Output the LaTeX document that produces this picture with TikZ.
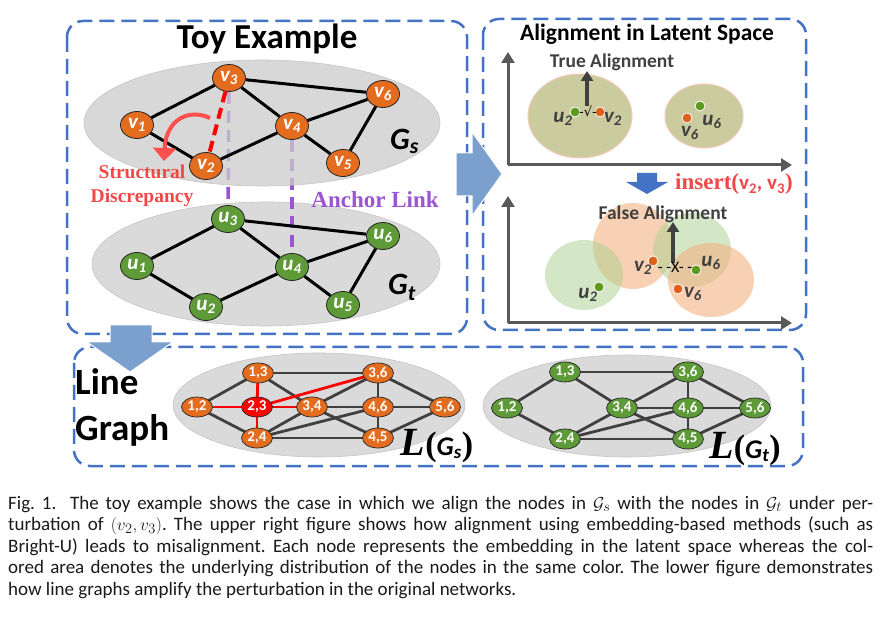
\documentclass[tikz,border=0pt]{standalone}
\usepackage{fontspec}
\setmainfont{Carlito}
\newfontfamily\tms{Liberation Serif}
\newfontfamily\dejavu{DejaVu Sans}
\usetikzlibrary{shapes.geometric,arrows.meta}
\pgfdeclarelayer{bg}
\pgfdeclarelayer{mid}
\pgfsetlayers{bg,mid,main}
\definecolor{boxblue}{HTML}{4472C4}
\definecolor{arrblue}{HTML}{7BA0CD}
\definecolor{vorange}{HTML}{E36C1F}
\definecolor{ugreen}{HTML}{5E9A38}
\definecolor{ellgray}{HTML}{DADADA}
\definecolor{ellgraydk}{HTML}{CCCCCC}
\definecolor{redtxt}{HTML}{F04848}
\definecolor{redarr}{HTML}{FF5050}
\definecolor{anchorp}{HTML}{9B55D0}
\definecolor{axisgray}{HTML}{595959}
\definecolor{edgegray}{HTML}{404040}
\definecolor{lgreen}{HTML}{A9D18E}
\definecolor{lorange}{HTML}{F4B183}
\definecolor{olivefill}{HTML}{CBCBA0}
\definecolor{pinkedge}{HTML}{F2C8B4}
\definecolor{dotgreen}{HTML}{5E9A1E}
\definecolor{dotorange}{HTML}{E0601A}
\definecolor{lbltxt}{HTML}{404040}
\definecolor{captxt}{HTML}{1A1A1A}
\begin{document}
\begin{tikzpicture}[x=1pt,y=-1pt,
  dbox/.style={draw=boxblue, line width=2.5pt, dash pattern=on 15pt off 7pt, rounded corners=16pt},
  vnode/.style={ellipse, draw=black!85, line width=0.8pt, fill=vorange, minimum width=33pt, minimum height=27pt, inner sep=0pt, text=white, font=\fontsize{21}{21}\selectfont\bfseries\itshape},
  unode/.style={vnode, fill=ugreen},
  lnodeo/.style={ellipse, draw=black!85, line width=0.7pt, fill=vorange, minimum width=31pt, minimum height=20pt, inner sep=0pt, text=white, font=\fontsize{15}{15}\selectfont\bfseries},
  lnodeg/.style={lnodeo, fill=ugreen},
  lnoder/.style={lnodeo, fill=red},
  gedge/.style={line width=3pt, black},
  ledge/.style={line width=2.8pt, edgegray},
  redge/.style={line width=2.8pt, red},
  anchorln/.style={anchorp, line width=3.5pt, dash pattern=on 12pt off 7pt},
  bigarrow/.style={fill=arrblue, draw=white, line width=1pt},
  axisarr/.style={axisgray, line width=3pt, -{Triangle[length=11pt,width=13pt]}},
  uparr/.style={edgegray, line width=3.5pt, -{Triangle[length=10pt,width=12pt]}},
  gdot/.style={circle, fill=dotgreen, draw=white, line width=0.8pt, minimum size=10pt, inner sep=0pt},
  odot/.style={gdot, fill=dotorange},
  lbl/.style={text=lbltxt, font=\fontsize{21}{21}\selectfont\bfseries\itshape, inner sep=0pt},
  ttl/.style={font=\fontsize{#1}{#1}\selectfont\bfseries, inner sep=0pt},
  capline/.style={anchor=base west, inner sep=0pt, text=captxt, font=\fontsize{19}{19}\selectfont\frenchspacing}
]
\useasboundingbox (0,0) rectangle (881,617);
\begin{pgfonlayer}{bg}
\fill[white] (0,0) rectangle (881,617);
\end{pgfonlayer}

% ---------- dashed panels ----------
\draw[dbox] (67,21) rectangle (467,334);
\draw[dbox] (483,19) rectangle (806,330);
\draw[dbox] (74,347) rectangle (803,466);

% ---------- Toy example ----------
\node[ttl=35, anchor=base] (toy) at (267,49) {Toy Example};

\begin{pgfonlayer}{bg}
\filldraw[fill=ellgray, draw=gray!45, line width=0.6pt] (266,264) ellipse [x radius=174pt, y radius=62pt];
\end{pgfonlayer}
\begin{pgfonlayer}{mid}
\filldraw[fill=ellgraydk, fill opacity=0.75, draw=gray!45, line width=0.6pt] (262,123) ellipse [x radius=178pt, y radius=63pt];
\end{pgfonlayer}

\node[vnode] (v3) at (229,78) {v\textsubscript{3}};
\node[vnode] (v6) at (383,94) {v\textsubscript{6}};
\node[vnode] (v1) at (137,125) {v\textsubscript{1}};
\node[vnode] (v4) at (292,126) {v\textsubscript{4}};
\node[vnode] (v2) at (206,166) {v\textsubscript{2}};
\node[vnode] (v5) at (343,163) {v\textsubscript{5}};

\node[unode] (u3) at (228,219) {u\textsubscript{3}};
\node[unode] (u6) at (383,236) {u\textsubscript{6}};
\node[unode] (u1) at (137,266) {u\textsubscript{1}};
\node[unode] (u4) at (292,267) {u\textsubscript{4}};
\node[unode] (u2) at (206,307) {u\textsubscript{2}};
\node[unode] (u5) at (343,305) {u\textsubscript{5}};

\begin{pgfonlayer}{bg}
\draw[anchorln] (v3) -- (u3);
\draw[anchorln] (v4) -- (u4);
\end{pgfonlayer}

\foreach \a/\b in {1/3,1/2,3/6,3/4,2/4,4/6,4/5,5/6}{
  \draw[gedge] (v\a) -- (v\b);
  \draw[gedge] (u\a) -- (u\b);
}
\draw[red, line width=4pt, dash pattern=on 11pt off 6pt] (v3) -- (v2);

\coordinate (cs) at (210,118);
\coordinate (ce) at (164,161);
\draw[redarr, line width=4pt, -{Triangle[length=13pt,width=23pt]}] (cs) .. controls (188,108) and (166,120) .. (ce);

\node[text=redtxt, font=\tms\fontsize{19.5}{19.5}\selectfont\bfseries, anchor=base, inner sep=0pt] (sd1) at (142,179) {Structural};
\node[text=redtxt, font=\tms\fontsize{19.5}{19.5}\selectfont\bfseries, anchor=base, inner sep=0pt] (sd2) at (142,203) {Discrepancy};
\node[text=anchorp, font=\tms\fontsize{23}{23}\selectfont\bfseries, anchor=base, inner sep=0pt] (al) at (375,208) {Anchor Link};

\node[font=\fontsize{31}{31}\selectfont\bfseries\itshape, anchor=base west, inner sep=0pt] (gs) at (390,150) {G\textsubscript{s}};
\node[font=\fontsize{31}{31}\selectfont\bfseries\itshape, anchor=base west, inner sep=0pt] (gt) at (388,295) {G\textsubscript{t}};

% ---------- Latent space ----------
\filldraw[fill=olivefill, draw=pinkedge, line width=1pt] (580,116) ellipse [x radius=52pt, y radius=42pt];
\filldraw[fill=olivefill, draw=pinkedge, line width=1pt] (704,116) ellipse [x radius=39pt, y radius=32pt];

\fill[lorange, fill opacity=0.6] (633,246) ellipse [x radius=40pt, y radius=43pt];
\fill[lgreen, fill opacity=0.5] (584,275) ellipse [x radius=39pt, y radius=35pt];
\fill[lgreen, fill opacity=0.5] (692,250) ellipse [x radius=39pt, y radius=37pt];
\fill[lorange, fill opacity=0.6] (711,280) ellipse [x radius=43pt, y radius=37pt];

\node[ttl=23.5, anchor=base] (lat) at (647,41) {Alignment in Latent Space};
\node[ttl=19.5, anchor=base, text=lbltxt] (ta) at (612,68) {True Alignment};
\node[ttl=19.5, anchor=base, text=lbltxt] (fa) at (663,220) {False Alignment};

\coordinate (o1) at (508,165);
\coordinate (y1) at (508,52);
\coordinate (x1) at (792,165);
\coordinate (o2) at (508,323);
\coordinate (y2) at (508,196);
\coordinate (x2) at (792,323);
\draw[axisarr] (o1) -- (y1);
\draw[axisarr] (o1) -- (x1);
\draw[axisarr] (o2) -- (y2);
\draw[axisarr] (o2) -- (x2);

\coordinate (ta0) at (587,106);
\coordinate (ta1) at (587,71);
\draw[uparr] (ta0) -- (ta1);
\coordinate (fa0) at (673,263);
\coordinate (fa1) at (673,222);
\draw[uparr] (fa0) -- (fa1);

\node[gdot] (du2) at (575,112) {};
\node[odot] (dv2) at (600,112) {};
\node[font=\dejavu\fontsize{13}{13}\selectfont, inner sep=0pt] (chk) at (588,111) {-√-};
\node[lbl] (lu2) at (563,119) {u\textsubscript{2}};
\node[lbl] (lv2) at (613,119) {v\textsubscript{2}};
\node[gdot] (du6) at (700,106) {};
\node[odot] (dv6) at (687,118) {};
\node[lbl] (lu6) at (712,122) {u\textsubscript{6}};
\node[lbl] (lv6) at (690,133) {v\textsubscript{6}};

\node[odot] (ev2) at (653,261) {};
\node[gdot] (eu6) at (696,270) {};
\node[gdot] (eu2) at (599,287) {};
\node[odot] (ev6) at (678,289) {};
\node[font=\fontsize{16}{16}\selectfont, inner sep=0pt] (xx) at (675,267) {- -X- -};
\node[lbl] (mv2) at (643,268) {v\textsubscript{2}};
\node[lbl] (mu6) at (711,263) {u\textsubscript{6}};
\node[lbl] (mu2) at (588,295) {u\textsubscript{2}};
\node[lbl] (mv6) at (693,294) {v\textsubscript{6}};

\fill[boxblue] (637,173) -- (657,173) -- (657,182) -- (668,182) -- (647,194) -- (626,182) -- (637,182) -- cycle;
\node[anchor=base west, inner sep=0pt, text=redtxt] (ins) at (675,190)
  {{\tms\fontsize{23}{23}\selectfont\bfseries insert(}{\fontsize{21}{21}\selectfont\bfseries v\textsubscript{2}, v\textsubscript{3}}{\tms\fontsize{23}{23}\selectfont\bfseries )}};

% ---------- big arrows ----------
\filldraw[bigarrow] (456,153) -- (472,153) -- (472,132) -- (502,174) -- (472,216) -- (472,196) -- (456,196) -- cycle;
\filldraw[bigarrow] (110,325) -- (152,325) -- (152,342) -- (173,342) -- (130,372) -- (87,342) -- (110,342) -- cycle;

% ---------- Line graphs ----------
\node[ttl=37, anchor=base west] (lg1) at (75,395) {Line};
\node[ttl=37, anchor=base west] (lg2) at (75,440) {Graph};

\begin{pgfonlayer}{bg}
\filldraw[fill=ellgray, draw=gray!45, line width=0.6pt] (319,405) ellipse [x radius=146pt, y radius=52pt];
\filldraw[fill=ellgray, draw=gray!45, line width=0.6pt] (627,406) ellipse [x radius=144pt, y radius=51pt];
\end{pgfonlayer}

\node[lnodeo] (s13) at (258,373) {1,3};
\node[lnodeo] (s36) at (378,373) {3,6};
\node[lnodeo] (s12) at (197,407) {1,2};
\node[lnoder] (s23) at (257,407) {2,3};
\node[lnodeo] (s34) at (312,407) {3,4};
\node[lnodeo] (s46) at (378,407) {4,6};
\node[lnodeo] (s56) at (445,407) {5,6};
\node[lnodeo] (s24) at (257,438) {2,4};
\node[lnodeo] (s45) at (378,438) {4,5};

\node[lnodeg] (t13) at (565,372) {1,3};
\node[lnodeg] (t36) at (688,372) {3,6};
\node[lnodeg] (t12) at (507,408) {1,2};
\node[lnodeg] (t34) at (622,408) {3,4};
\node[lnodeg] (t46) at (688,408) {4,6};
\node[lnodeg] (t56) at (755,408) {5,6};
\node[lnodeg] (t24) at (565,439) {2,4};
\node[lnodeg] (t45) at (688,439) {4,5};

\begin{pgfonlayer}{mid}
\foreach \a/\b in {12/13,12/24,13/36,13/34,36/34,34/24,34/46,34/45,24/46,24/45,46/45,45/56,36/46,36/56,46/56}{
  \draw[ledge] (s\a.center) -- (s\b.center);
  \draw[ledge] (t\a.center) -- (t\b.center);
}
\foreach \b in {12,24,13,36,34}{
  \draw[redge] (s23.center) -- (s\b.center);
}
\end{pgfonlayer}

\node[anchor=base, inner sep=0pt] (lgs) at (437,455)
  {{\tms\fontsize{40}{40}\selectfont\bfseries\itshape L}{\tms\fontsize{34}{34}\selectfont\bfseries(}{\fontsize{27}{27}\selectfont\bfseries\itshape G\textsubscript{s}}{\tms\fontsize{34}{34}\selectfont\bfseries)}};
\node[anchor=base, inner sep=0pt] (lgt) at (745,458)
  {{\tms\fontsize{40}{40}\selectfont\bfseries\itshape L}{\tms\fontsize{34}{34}\selectfont\bfseries(}{\fontsize{27}{27}\selectfont\bfseries\itshape G\textsubscript{t}}{\tms\fontsize{34}{34}\selectfont\bfseries)}};

% ---------- caption ----------
\node[capline] (c1) at (8,509) {\makebox[865pt][s]{Fig. 1.\ \ The toy example shows the case in which we align the nodes in $\mathcal{G}_s$ with the nodes in $\mathcal{G}_t$ under per-}};
\node[capline] (c2) at (8,530.5) {\makebox[865pt][s]{turbation of $(v_2, v_3)$. The upper right figure shows how alignment using embedding-based methods (such as}};
\node[capline] (c3) at (8,552) {\makebox[865pt][s]{Bright-U) leads to misalignment. Each node represents the embedding in the latent space whereas the col-}};
\node[capline] (c4) at (8,573.5) {\makebox[865pt][s]{ored area denotes the underlying distribution of the nodes in the same color. The lower figure demonstrates}};
\node[capline] (c5) at (8,595) {how line graphs amplify the perturbation in the original networks.};
\end{tikzpicture}
\end{document}
